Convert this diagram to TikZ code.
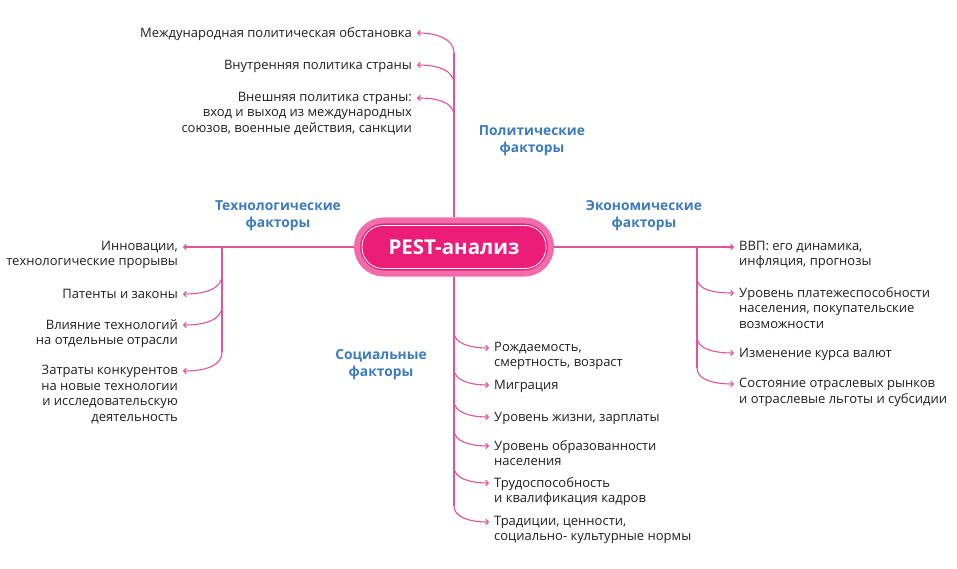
\documentclass[tikz,border=0pt]{standalone}
\usepackage{fontspec}
\setmainfont{Open Sans}
\usetikzlibrary{math,arrows.meta}

\definecolor{pestline}{HTML}{E0529A}
\definecolor{pestring}{HTML}{F26BAA}
\definecolor{pestcore}{HTML}{EC1D78}
\definecolor{pestblue}{HTML}{3B7BBE}
\definecolor{pesttext}{HTML}{1F1F1F}

\tikzset{
  trunk/.style={pestline, line width=1.1pt},
  branch/.style={trunk, -{Straight Barb[length=2.5pt,width=5.5pt]}},
  itemL/.style={anchor=north east, align=right, inner xsep=5pt, inner ysep=0pt,
    text=pesttext, font=\fontsize{13}{15.5}\selectfont,
    execute at begin node={\rule{0pt}{10.5pt}}},
  itemR/.style={itemL, anchor=north west, align=left},
  factor/.style={align=center, text=pestblue, font=\fontsize{13.8}{17}\selectfont\bfseries},
  pestnode/.style={fill=pestcore, draw=pestring, line width=6pt, rounded corners=26.5pt,
    minimum width=194pt, minimum height=53pt, text=white,
    font=\fontsize{20.5}{22}\selectfont\bfseries},
}

\begin{document}
\begin{tikzpicture}[x=1pt,y=-1pt]
  \tikzmath{\cx = 454; \cy = 247; \tx = 222; \ex = 697;}
  \useasboundingbox (0,0) rectangle (957,569);

  % center
  \node[pestnode] (pest) at (\cx,\cy) {PEST-анализ};
  \draw[white, line width=0.8pt, rounded corners=21pt]
    ([shift={(8,8)}]pest.north west) rectangle ([shift={(-8,-8)}]pest.south east);

  % political
  \node[factor] (polf) at (532,141) {Политические\\факторы};
  \node[itemL] (pol1) at (417,27) {Международная политическая обстановка};
  \node[itemL] (pol2) at (417,59) {Внутренняя политика страны};
  \node[itemL] (pol3) at (417,92) {Внешняя политика страны:\\вход и выход из международных\\союзов, военные действия, санкции};
  \coordinate (pj1) at (\cx,53);
  \coordinate (pj2) at (\cx,84);
  \coordinate (pj3) at (\cx,116);
  \draw[trunk] (pest.north) -- (pj1);
  \draw[branch] (pj1) .. controls +(0,-14) and +(20,0) .. ([yshift=-6pt]pol1.north east);
  \draw[branch] (pj2) .. controls +(0,-14) and +(20,0) .. ([yshift=-6pt]pol2.north east);
  \draw[branch] (pj3) .. controls +(0,-14) and +(20,0) .. ([yshift=-6pt]pol3.north east);

  % technological
  \node[factor] (techf) at (278,216) {Технологические\\факторы};
  \node[itemL] (tech1) at (183,241) {Инновации,\\технологические прорывы};
  \node[itemL] (tech2) at (183,288) {Патенты и законы};
  \node[itemL] (tech3) at (183,319) {Влияние технологий\\на отдельные отрасли};
  \node[itemL] (tech4) at (183,365) {Затраты конкурентов\\на новые технологии\\и исследовательскую\\деятельность};
  \coordinate (tk) at (\tx,\cy);
  \coordinate (tj2) at (\tx,275);
  \coordinate (tj3) at (\tx,306);
  \coordinate (tj4) at (\tx,352);
  \draw[branch] (pest.west) -- ([yshift=-6pt]tech1.north east);
  \draw[trunk] (tk) -- (tj4);
  \draw[branch] (tj2) .. controls +(0,14) and +(22,0) .. ([yshift=-6pt]tech2.north east);
  \draw[branch] (tj3) .. controls +(0,14) and +(22,0) .. ([yshift=-6pt]tech3.north east);
  \draw[branch] (tj4) .. controls +(0,14) and +(22,0) .. ([yshift=-6pt]tech4.north east);

  % economic
  \node[factor] (ecof) at (644,216) {Экономические\\факторы};
  \node[itemR] (eco1) at (734,241) {ВВП: его динамика,\\инфляция, прогнозы};
  \node[itemR] (eco2) at (734,287) {Уровень платежеспособности\\населения, покупательские\\возможности};
  \node[itemR] (eco3) at (734,347) {Изменение курса валют};
  \node[itemR] (eco4) at (734,378) {Состояние отраслевых рынков\\и отраслевые льготы и субсидии};
  \coordinate (ek) at (\ex,\cy);
  \coordinate (ej2) at (\ex,278);
  \coordinate (ej3) at (\ex,337);
  \coordinate (ej4) at (\ex,368);
  \draw[branch] (pest.east) -- ([yshift=-6pt]eco1.north west);
  \draw[trunk] (ek) -- (ej4);
  \draw[branch] (ej2) .. controls +(0,12) and +(-20,0) .. ([yshift=-6pt]eco2.north west);
  \draw[branch] (ej3) .. controls +(0,12) and +(-20,0) .. ([yshift=-6pt]eco3.north west);
  \draw[branch] (ej4) .. controls +(0,12) and +(-20,0) .. ([yshift=-6pt]eco4.north west);

  % social
  \node[factor] (socf) at (381,365) {Социальные\\факторы};
  \node[itemR] (soc1) at (489,342) {Рождаемость,\\смертность, возраст};
  \node[itemR] (soc2) at (489,379) {Миграция};
  \node[itemR] (soc3) at (489,411) {Уровень жизни, зарплаты};
  \node[itemR] (soc4) at (489,440) {Уровень образованности\\населения};
  \node[itemR] (soc5) at (489,477) {Трудоспособность\\и квалификация кадров};
  \node[itemR] (soc6) at (489,516) {Традиции, ценности,\\социально- культурные нормы};
  \coordinate (sj1) at (\cx,332);
  \coordinate (sj2) at (\cx,369);
  \coordinate (sj3) at (\cx,401);
  \coordinate (sj4) at (\cx,430);
  \coordinate (sj5) at (\cx,467);
  \coordinate (sj6) at (\cx,506);
  \draw[trunk] (pest.south) -- (sj6);
  \draw[branch] (sj1) .. controls +(0,11) and +(-20,0) .. ([yshift=-6pt]soc1.north west);
  \draw[branch] (sj2) .. controls +(0,11) and +(-20,0) .. ([yshift=-6pt]soc2.north west);
  \draw[branch] (sj3) .. controls +(0,11) and +(-20,0) .. ([yshift=-6pt]soc3.north west);
  \draw[branch] (sj4) .. controls +(0,11) and +(-20,0) .. ([yshift=-6pt]soc4.north west);
  \draw[branch] (sj5) .. controls +(0,11) and +(-20,0) .. ([yshift=-6pt]soc5.north west);
  \draw[branch] (sj6) .. controls +(0,11) and +(-20,0) .. ([yshift=-6pt]soc6.north west);
\end{tikzpicture}
\end{document}
